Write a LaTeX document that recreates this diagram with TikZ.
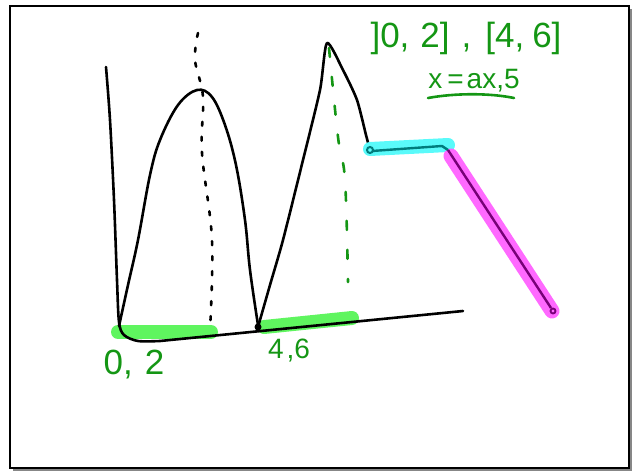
\documentclass[tikz,border=0pt]{standalone}
\usepackage{fontspec}
\setmainfont{Liberation Sans}
\usepackage{tikz}
\definecolor{inkgreen}{RGB}{20,150,20}
\definecolor{hlgreen}{RGB}{95,245,95}
\definecolor{hlcyan}{RGB}{90,250,250}
\definecolor{hlpink}{RGB}{255,105,255}
\definecolor{inkteal}{RGB}{0,125,125}
\definecolor{inkpurple}{RGB}{120,0,120}
\definecolor{shadowgray}{RGB}{135,135,135}
\tikzset{
  ink/.style={line width=2.6pt, line cap=round, line join=round, black},
  marker/.style={line width=14pt, line cap=round},
  blackdots/.style={line width=2.6pt, line cap=round, dash pattern=on 4pt off 11pt},
  greendash/.style={line width=2.6pt, line cap=round, inkgreen, dash pattern=on 9pt off 20pt},
  handtext/.style={font=\fontsize{35}{35}\selectfont, text=inkgreen, inner sep=0pt},
  smalltext/.style={font=\fontsize{28}{28}\selectfont, text=inkgreen, inner sep=0pt}
}

\begin{document}
\begin{tikzpicture}[x=1pt, y=-1pt]
  \useasboundingbox (0,0) rectangle (638,471);
  % Page frame with shadow
  \draw[shadowgray, line width=2.5pt] (13,470) -- (631,470) -- (631,9);
  \draw[line width=2.2pt] (10,6) rectangle (629,468);

  % Highlights under the axis
  \draw[marker, hlgreen] (118,332) -- (211,332);
  \draw[marker, hlgreen] (264,327) -- (352,318);

  % Vertical axis running into the base line
  \draw[ink] plot[smooth, tension=0.5] coordinates
    {(106,67) (110,120) (114,200) (117,280) (119,322) (124,335) (138,341) (160,341)}
    -- (463,311);

  % First arch
  \draw[ink] plot[smooth, tension=0.6] coordinates
    {(119,326) (128,285) (138,240) (150,175) (160,140) (178,105) (197,90)
     (212,97) (225,125) (236,165) (245,220) (250,270) (258,325)};

  % Second peak and its drop
  \draw[ink] plot[smooth, tension=0.4] coordinates
    {(258,327) (270,285) (283,240) (303,160) (320,90) (327,43)
     (343,70) (357,100) (366,135) (370,150)};
  \fill (258,327) circle (3.5pt);

  % Dotted and dashed guides
  \draw[blackdots] plot[smooth, tension=0.6] coordinates
    {(198,33) (195,60) (203,97) (202,153) (212,240) (210,330)};
  \draw[greendash] plot[smooth, tension=0.6] coordinates
    {(329,48) (338,137) (345,180) (348,282)};

  % Flat piece and falling piece
  \draw[marker, hlcyan] (370,149) -- (448,145);
  \draw[marker, hlpink, line width=15pt] (451,156) -- (552,311);
  \draw[line width=2.4pt, inkteal] (372,151) -- (442,146) -- (448,150);
  \draw[inkteal, line width=2pt] (370,150) circle (3pt);
  \draw[line width=2.4pt, inkpurple] (448,150) -- (551,308);
  \draw[inkpurple, line width=1.8pt] (553,311) circle (2.5pt);

  % Labels
  \node[handtext] (intervals) at (466,38)
    {]0,\hspace{11pt}2]\hspace{12pt},\hspace{14pt}[4,\hspace{8pt}6]};
  \node[smalltext] (formula) at (474,81) {x\hspace{5pt}=\hspace{3pt}ax,5};
  \draw[line width=2.6pt, inkgreen, line cap=round]
    (428,98) .. controls (455,93) and (490,93) .. (514,98);
  \node[handtext] (lowleft) at (134,365) {0,\hspace{12pt}2};
  \node[smalltext] (lowright) at (289,351) {4\hspace{3pt},6};
\end{tikzpicture}
\end{document}
